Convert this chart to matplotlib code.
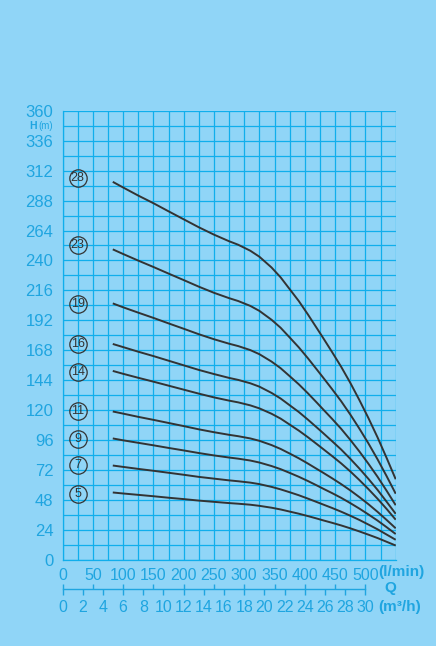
import numpy as np
import matplotlib
matplotlib.use("Agg")
import matplotlib.pyplot as plt
from matplotlib import font_manager

flow = [83, 100, 125, 150, 175, 200, 225, 250, 275, 290, 310, 325, 345, 360,
        375, 390, 405, 420, 430, 445, 460, 475, 490, 505, 520, 535, 550]

# head (m) for each stage count
h5 = [54.1, 53.3, 52.2, 51.1, 49.9, 48.8, 47.6, 46.6, 45.6, 45.1, 44.3, 43.4, 41.9, 40.5,
      38.8, 37.1, 35.2, 33.2, 31.8, 29.8, 27.7, 25.4, 22.9, 20.3, 17.6, 14.6, 11.6]
h7 = [75.7, 74.6, 73.0, 71.5, 69.9, 68.3, 66.6, 65.2, 63.8, 63.1, 62.0, 60.8, 58.6, 56.6,
      54.3, 51.9, 49.2, 46.4, 44.5, 41.7, 38.7, 35.5, 32.1, 28.4, 24.6, 20.4, 16.2]
h9 = [97.4, 95.9, 93.9, 91.9, 89.8, 87.8, 85.7, 83.8, 82.1, 81.2, 79.7, 78.1, 75.3, 72.8,
      69.8, 66.7, 63.3, 59.7, 57.2, 53.6, 49.8, 45.6, 41.2, 36.5, 31.6, 26.3, 20.8]
h11 = [119.0, 117.3, 114.7, 112.3, 109.8, 107.3, 104.7, 102.4, 100.3, 99.2, 97.4, 95.5, 92.1, 89.0,
       85.3, 81.5, 77.3, 72.9, 70.0, 65.5, 60.8, 55.8, 50.4, 44.7, 38.6, 32.1, 25.4]
h14 = [151.5, 149.2, 146.0, 142.9, 139.7, 136.5, 133.3, 130.3, 127.7, 126.3, 123.9, 121.5, 117.2, 113.3,
       108.5, 103.7, 98.4, 92.8, 89.0, 83.3, 77.4, 71.0, 64.1, 56.8, 49.1, 40.9, 32.3]
h16 = [173.1, 170.6, 166.9, 163.4, 159.7, 156.0, 152.3, 149.0, 145.9, 144.3, 141.6, 138.9, 133.9, 129.4,
       124.0, 118.6, 112.5, 106.1, 101.8, 95.2, 88.5, 81.1, 73.3, 65.0, 56.2, 46.7, 37.0]
h19 = [205.6, 202.5, 198.2, 194.0, 189.6, 185.3, 180.9, 176.9, 173.3, 171.4, 168.2, 164.9, 159.0, 153.7,
       147.3, 140.8, 133.6, 126.0, 120.8, 113.1, 105.1, 96.3, 87.0, 77.1, 66.7, 55.5, 43.9]
h23 = [248.9, 245.2, 239.9, 234.8, 229.5, 224.3, 219.0, 214.1, 209.8, 207.5, 203.6, 199.6, 192.5, 186.1,
       178.3, 170.4, 161.7, 152.5, 146.3, 136.9, 127.2, 116.6, 105.3, 93.4, 80.7, 67.2, 53.1]
h28 = [303.0, 298.5, 292.0, 285.9, 279.4, 273.0, 266.6, 260.7, 255.4, 252.6, 247.8, 243.0, 234.4, 226.5,
       217.0, 207.5, 196.8, 185.6, 178.1, 166.6, 154.8, 142.0, 128.2, 113.7, 98.3, 81.8, 64.7]

stages = [5, 7, 9, 11, 14, 16, 19, 23, 28]
curves = [h5, h7, h9, h11, h14, h16, h19, h23, h28]
label_h = [53, 76, 97, 119, 151, 173, 205, 252, 306]

ytick_vals = list(range(0, 361, 24))
lmin_ticks = list(range(0, 501, 50))
m3h_ticks = list(range(0, 31, 2))

bg = '#90d5f7'
grid_c = '#10aeec'
txt_c = '#1fa5e0'
ink = '#333333'

names = {f.name for f in font_manager.fontManager.ttflist}
narrow = 'Liberation Sans Narrow' if 'Liberation Sans Narrow' in names else 'Liberation Sans'
plt.rcParams['font.family'] = ['Liberation Sans', 'DejaVu Sans']

fig = plt.figure(figsize=(4.36, 6.46), dpi=100, facecolor=bg)
L, R, B, T = 62.5 / 436, 395.7 / 436, 86 / 646, 535.3 / 646
ax = fig.add_axes([L, B, R - L, T - B], facecolor=bg)

for h in curves:
    ax.plot(flow, h, color=ink, lw=1.4, solid_capstyle='butt', solid_joinstyle='round')

# stage labels in circles
for n, y in zip(stages, label_h):
    ax.plot(25, y, 'o', ms=12.5, mfc='none', mec=ink, mew=0.9, clip_on=False)
    ax.text(25, y, str(n), ha='center', va='center', fontsize=9, color=ink, family=narrow)

ax.set_xlim(0, 550)
ax.set_ylim(0, 360)
ax.set_xticks(lmin_ticks)
ax.set_xticks(np.arange(0, 551, 25), minor=True)
ax.set_yticks(ytick_vals)
ax.set_yticks(np.arange(0, 361, 12), minor=True)
ax.grid(True, which='both', color=grid_c, lw=0.9)
ax.set_axisbelow(True)
ax.tick_params(which='both', length=0, colors=txt_c)
ax.tick_params(axis='y', labelsize=12, pad=6.5)
ax.tick_params(axis='x', labelsize=11.5, pad=6)
for lab in ax.get_xticklabels():
    lab.set_family(narrow)
for s in ax.spines.values():
    s.set_color(grid_c)
    s.set_linewidth(0.9)
ax.spines['top'].set_visible(False)
ax.spines['right'].set_visible(False)

# second scale in m3/h
ax2 = fig.add_axes([L, (646 - 589.3) / 646, R - L, 0.0001], facecolor='none')
ax2.set_xlim(0, 33)
for k in ['top', 'left', 'right']:
    ax2.spines[k].set_visible(False)
ax2.spines['bottom'].set_bounds(0, 30)
ax2.spines['bottom'].set_color(txt_c)
ax2.spines['bottom'].set_linewidth(1.0)
ax2.set_yticks([])
ax2.set_xticks(m3h_ticks)
ax2.set_xticks(np.arange(0, 31, 3), minor=True)
ax2.xaxis.remove_overlapping_locs = False
ax2.tick_params(axis='x', which='major', direction='out', length=4.3, width=1,
                colors=txt_c, labelsize=11.5, pad=3.5)
ax2.tick_params(axis='x', which='minor', direction='in', length=3.6, width=1, colors=txt_c)
for lab in ax2.get_xticklabels():
    lab.set_family(narrow)

fig.text(378.3 / 436, 1 - 572 / 646, '(l/min)', color=txt_c, fontsize=11, fontweight='bold',
         ha='left', va='center')
fig.text(384.3 / 436, 1 - 588 / 646, 'Q', color=txt_c, fontsize=11, fontweight='bold',
         ha='left', va='center')
fig.text(378.3 / 436, 1 - 607 / 646, '(m³/h)', color=txt_c, fontsize=11, fontweight='bold',
         ha='left', va='center')
fig.text(29 / 436, 1 - 125.7 / 646, 'H', color=txt_c, fontsize=7.5, fontweight='bold',
         ha='left', va='center')
fig.text(38 / 436, 1 - 125.7 / 646, '(m)', color=txt_c, fontsize=7,
         ha='left', va='center')

fig.savefig('out.png', dpi=100, facecolor=bg)
